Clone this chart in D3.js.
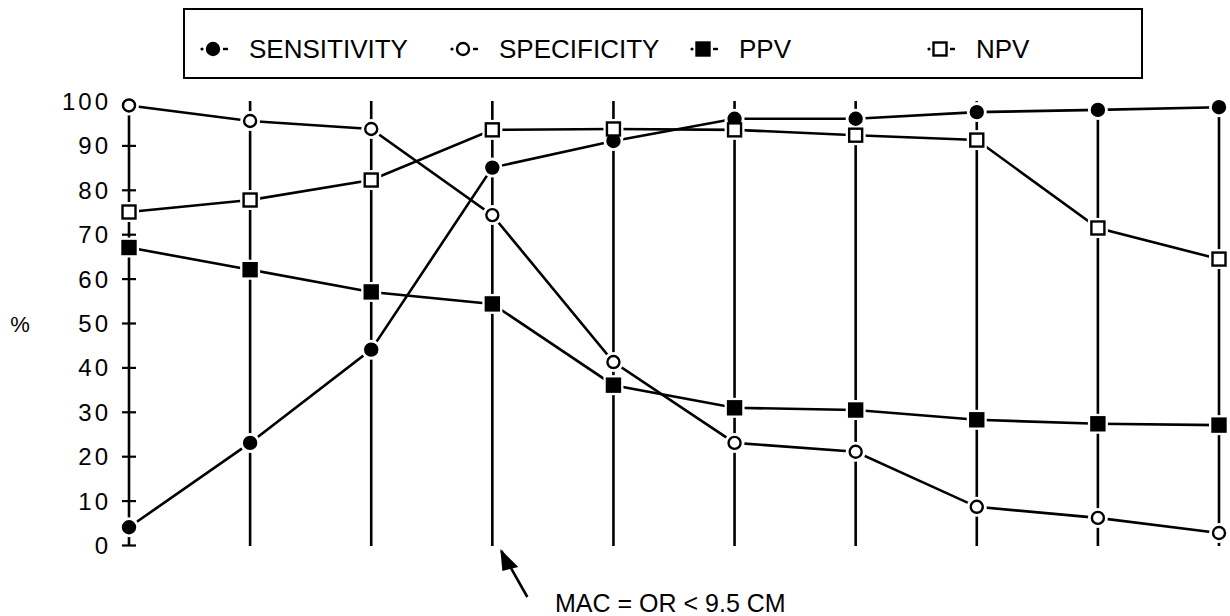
<!DOCTYPE html>
<html>
<head>
<meta charset="utf-8">
<script src="https://d3js.org/d3.v7.min.js"></script>
<style>
  body { margin: 0; background: #fff; }
  text { font-family: "Liberation Sans", Arial, Helvetica, sans-serif; fill: #000; }
</style>
</head>
<body>
<div id="viz"></div>
<script>
// cut-off steps along the x axis (no labels printed in the original)
let cutoffs = [1, 2, 3, 4, 5, 6, 7, 8, 9, 10];
let sensitivity = [4, 23, 44, 85, 91, 96, 96, 97.5, 98, 98.6];
let specificity = [99, 95.5, 93.7, 74.3, 41.2, 23, 21, 8.6, 6.1, 2.7];
let ppv = [67, 62, 57, 54.3, 36, 30.9, 30.4, 28.2, 27.3, 27];
let npv = [75, 77.7, 82.2, 93.5, 93.7, 93.5, 92.3, 91.2, 71.4, 64.4];
let yTicks = [0, 10, 20, 30, 40, 50, 60, 70, 80, 90, 100];
let legendNames = ['SENSITIVITY', 'SPECIFICITY', 'PPV', 'NPV'];

let width = 1230,
    height = 616;

let svg = d3.select('#viz')
    .append('svg')
    .attr('width', width)
    .attr('height', height);

let x = d3.scalePoint()
    .domain(cutoffs)
    .range([129, 1219]);

let y = d3.scaleLinear()
    .domain([0, 100])
    .range([545, 101]);

let series = [
    {name: legendNames[0], values: sensitivity, shape: 'circle', filled: true},
    {name: legendNames[1], values: specificity, shape: 'circle', filled: false},
    {name: legendNames[2], values: ppv, shape: 'square', filled: true},
    {name: legendNames[3], values: npv, shape: 'square', filled: false}
];

// vertical drop lines at every cut-off
svg.append('g')
    .selectAll('line')
    .data(cutoffs)
    .enter()
    .append('line')
    .attr('x1', d => x(d))
    .attr('x2', d => x(d))
    .attr('y1', y(100))
    .attr('y2', y(0) + 1)
    .attr('stroke', '#000')
    .attr('stroke-width', 2.6);

// y axis with cross ticks
let axis = d3.axisLeft(y)
    .tickValues(yTicks)
    .tickSize(0)
    .tickPadding(0)
    .tickFormat(d3.format('d'));

let gAxis = svg.append('g')
    .attr('transform', `translate(${x(cutoffs[0])},0)`)
    .call(axis);
gAxis.select('.domain').remove();
gAxis.selectAll('.tick line')
    .attr('x1', -7)
    .attr('x2', 7)
    .attr('stroke', '#000')
    .attr('stroke-width', 2.2);
gAxis.selectAll('.tick text')
    .attr('x', -18)
    .attr('dy', '0.35em')
    .style('font-size', '24px')
    .style('letter-spacing', '3px')
    .style('font-family', '"Liberation Sans", Arial, sans-serif')
    .attr('fill', '#000');

svg.append('text')
    .attr('x', 20)
    .attr('y', y(50) + 9)
    .attr('text-anchor', 'middle')
    .style('font-size', '22px')
    .text('%');

// series lines
let line = d3.line()
    .x((d, i) => x(cutoffs[i]))
    .y(d => y(d));

svg.append('g')
    .selectAll('path')
    .data(series)
    .enter()
    .append('path')
    .attr('d', d => line(d.values))
    .attr('fill', 'none')
    .attr('stroke', '#000')
    .attr('stroke-width', 2.6);

function drawMarker(g, s, cx, cy, halo) {
    if (s.shape === 'circle') {
        g.append('circle')
            .attr('cx', cx).attr('cy', cy)
            .attr('r', halo ? 10 : 6)
            .attr('fill', halo ? '#fff' : (s.filled ? '#000' : '#fff'))
            .attr('stroke', halo ? 'none' : '#000')
            .attr('stroke-width', 2.4);
    } else {
        let h = halo ? 10 : 6.5;
        g.append('rect')
            .attr('x', cx - h).attr('y', cy - h)
            .attr('width', 2 * h).attr('height', 2 * h)
            .attr('fill', halo ? '#fff' : (s.filled ? '#000' : '#fff'))
            .attr('stroke', halo ? 'none' : '#000')
            .attr('stroke-width', 2.4);
    }
}

// markers with a white halo that breaks the lines around them
let gMarks = svg.append('g');
series.forEach(s => {
    s.values.forEach((v, i) => {
        drawMarker(gMarks, s, x(cutoffs[i]), y(v), true);
    });
});
series.forEach(s => {
    s.values.forEach((v, i) => {
        drawMarker(gMarks, s, x(cutoffs[i]), y(v), false);
    });
});

// legend box
svg.append('rect')
    .attr('x', 184)
    .attr('y', 9)
    .attr('width', 958)
    .attr('height', 69)
    .attr('fill', 'none')
    .attr('stroke', '#000')
    .attr('stroke-width', 2);

let legendX = [213, 463, 703, 940];
let legend = svg.append('g');
series.forEach((s, i) => {
    let cx = legendX[i], cy = 49;
    legend.append('circle')
        .attr('cx', cx - 11).attr('cy', cy)
        .attr('r', 1.6)
        .attr('fill', '#000');
    drawMarker(legend, s, cx, cy, false);
    legend.append('line')
        .attr('x1', cx + 10).attr('x2', cx + 15)
        .attr('y1', cy).attr('y2', cy)
        .attr('stroke', '#000')
        .attr('stroke-width', 2.4);
    legend.append('text')
        .attr('x', cx + 36)
        .attr('y', cy + 9)
        .style('font-size', '26px')
        .text(s.name);
});

// annotation arrow
svg.append('defs')
    .append('marker')
    .attr('id', 'head')
    .attr('viewBox', '0 0 10 10')
    .attr('refX', 9)
    .attr('refY', 5)
    .attr('markerWidth', 8)
    .attr('markerHeight', 7)
    .attr('markerUnits', 'userSpaceOnUse')
    .attr('orient', 'auto')
    .append('path')
    .attr('d', 'M0,0 L10,5 L0,10 Z')
    .attr('fill', '#000');

let ax = x(cutoffs[3]);
svg.append('line')
    .attr('x1', ax + 35).attr('y1', y(0) + 52)
    .attr('x2', ax + 9).attr('y2', y(0) + 6)
    .attr('stroke', '#000')
    .attr('stroke-width', 2.6);
svg.append('path')
    .attr('d', `M${ax + 8},${y(0) + 4} L${ax + 26},${y(0) + 22} L${ax + 10},${y(0) + 26} Z`)
    .attr('fill', '#000');

svg.append('text')
    .attr('x', 555)
    .attr('y', 612)
    .style('font-size', '25px')
    .text('MAC = OR < 9.5 CM');
</script>
</body>
</html>
